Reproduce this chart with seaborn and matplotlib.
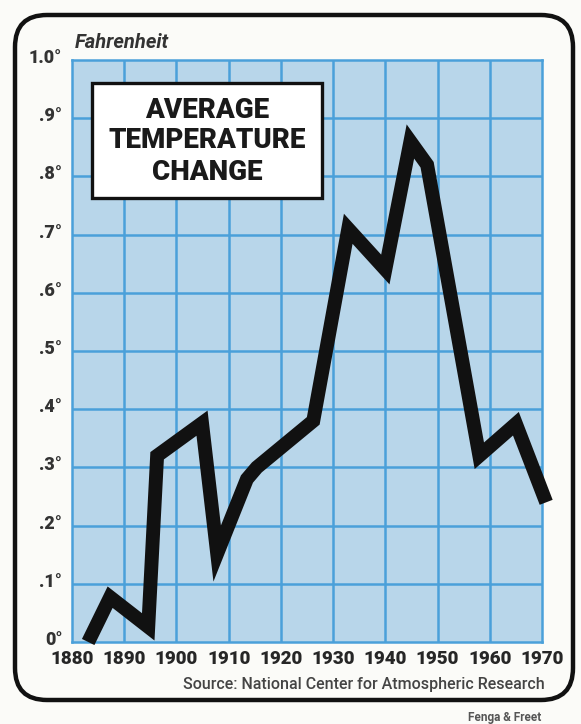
import matplotlib
matplotlib.use("Agg")
import matplotlib.pyplot as plt
from matplotlib.patches import FancyBboxPatch, Rectangle
from matplotlib.transforms import ScaledTranslation
import seaborn as sns
import pandas as pd

# ---- data ----
years = [1883.1, 1887.3, 1894.6, 1896.3, 1904.9, 1907.8, 1913.5, 1915.4,
         1926.2, 1932.9, 1940.0, 1944.8, 1948.0, 1958.0, 1965.0, 1970.8]
temps = [0.0, 0.077, 0.026, 0.32, 0.376, 0.152, 0.28, 0.30,
         0.38, 0.71, 0.64, 0.86, 0.82, 0.32, 0.375, 0.24]
x_ticks = [1880, 1890, 1900, 1910, 1920, 1930, 1940, 1950, 1960, 1970]
x_labels = [str(v) for v in x_ticks]
y_ticks = [0.0, 0.1, 0.2, 0.3, 0.4, 0.5, 0.6, 0.7, 0.8, 0.9, 1.0]
y_labels = ["0°", ".1°", ".2°", ".3°", ".4°", ".5°", ".6°", ".7°", ".8°", ".9°", "1.0°"]
title_lines = ["AVERAGE", "TEMPERATURE", "CHANGE"]
unit_label = "Fahrenheit"
source_text = "Source: National Center for Atmospheric Research"
credit_text = "Fenga & Freet"

df = pd.DataFrame({"year": years, "temp": temps})

sns.set_theme(style="white")
plt.rcParams["font.family"] = ["Roboto", "DejaVu Sans"]

fig = plt.figure(figsize=(5.81, 7.24), dpi=100)
fig.patch.set_facecolor("#fbfbf8")

ax = fig.add_axes([72 / 581, 82 / 724, 470 / 581, 582 / 724])
ax.set_facecolor("#b8d6ea")

grid_col = "#4aa0da"
for xv in x_ticks[1:-1]:
    ax.axvline(xv, color=grid_col, lw=1.8, zorder=1)
for yv in y_ticks[1:-1]:
    ax.axhline(yv, color=grid_col, lw=1.8, zorder=1)

sns.lineplot(data=df, x="year", y="temp", ax=ax, color="#111111", lw=10,
             sort=False, zorder=3, clip_on=False,
             solid_joinstyle="miter", solid_capstyle="butt")

ax.set_xlim(1880, 1970)
ax.set_ylim(0, 1.0)
ax.set_xticks(x_ticks)
ax.set_xticklabels(x_labels, fontsize=13.5, fontweight="black", color="#262626")
ax.set_yticks(y_ticks)
ax.set_yticklabels(y_labels, fontsize=13, fontweight="black", color="#333333")
ax.tick_params(axis="both", length=0)
ax.tick_params(axis="x", pad=6)
ax.tick_params(axis="y", pad=7)
shift = ScaledTranslation(0, 4 / 100, fig.dpi_scale_trans)
for lab in ax.get_yticklabels():
    lab.set_transform(lab.get_transform() + shift)
ax.set_xlabel("")
ax.set_ylabel("")
for s in ax.spines.values():
    s.set_color(grid_col)
    s.set_linewidth(1.8)

# title box
ax.add_patch(Rectangle((0.0426, 0.763), 0.489, 0.197, transform=ax.transAxes,
                       facecolor="white", edgecolor="#111111", lw=2.4, zorder=5))
for line, yy in zip(title_lines, [0.914, 0.861, 0.807]):
    ax.text(0.287, yy, line, transform=ax.transAxes, ha="center", va="center",
            fontsize=20, fontweight="black", color="#1a1a1a", zorder=6)

fig.text(75 / 581, 1 - 42 / 724, unit_label, fontsize=14.5, fontstyle="italic",
         fontweight="bold", color="#333333", ha="left", va="center")

fig.text(545 / 581, 1 - 684 / 724, source_text, fontsize=11.5, color="#444444",
         ha="right", va="center", fontweight="medium")
fig.text(505 / 581, 1 - 717 / 724, credit_text, fontsize=8.5, color="#555555",
         ha="center", va="center", fontweight="bold")

# outer rounded frame
frame = FancyBboxPatch((0.15 + 0.32, 0.24 + 0.32), 5.58 - 0.64, 6.85 - 0.64,
                       boxstyle="round,pad=0.32", transform=fig.dpi_scale_trans,
                       facecolor="none", edgecolor="#111111", lw=3.2, zorder=10)
fig.add_artist(frame)

fig.savefig("out.png", dpi=100, facecolor=fig.get_facecolor())
